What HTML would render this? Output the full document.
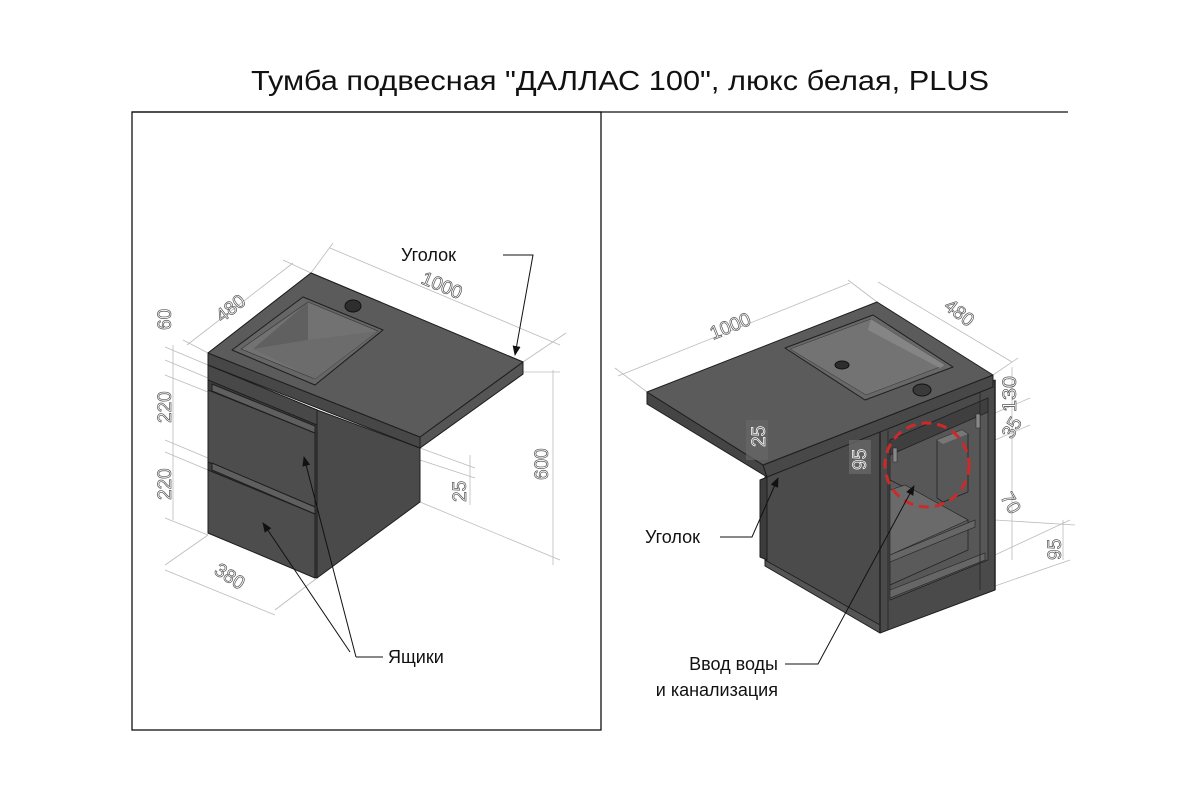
<!DOCTYPE html>
<html><head><meta charset="utf-8"><style>
html,body{margin:0;padding:0;background:#fff;}
svg{display:block;}
text{font-family:"Liberation Sans",sans-serif;}
.dim{fill:#fff;stroke:#555;stroke-width:0.7;font-size:19px;}
.dl{stroke:#bbb;stroke-width:0.8;fill:none;}
.lbl{font-size:18px;fill:#111;}
.e{stroke:#1e1e1e;stroke-width:1;stroke-linejoin:round;}
</style></head><body>
<svg width="1200" height="800" viewBox="0 0 1200 800" xmlns="http://www.w3.org/2000/svg">
<defs><marker id="ar" markerWidth="10" markerHeight="8" refX="9" refY="4" orient="auto" markerUnits="userSpaceOnUse"><path d="M0,0 L10,4 L0,8 z" fill="#111"/></marker></defs>
<rect width="1200" height="800" fill="#fff"/>
<text x="251" y="90" font-size="28" textLength="738" lengthAdjust="spacingAndGlyphs" fill="#111">Тумба подвесная "ДАЛЛАС 100", люкс белая, PLUS</text>
<line x1="132" y1="112" x2="1068" y2="112" stroke="#111" stroke-width="1.3"/>
<rect x="132" y="112" width="469" height="618" fill="none" stroke="#111" stroke-width="1.3"/>

<!-- LEFT DRAWING -->
<g class="dl">
<line x1="330" y1="248" x2="560" y2="345"/><line x1="311" y1="273" x2="333" y2="243"/><line x1="523" y1="362" x2="566" y2="333"/>
<line x1="187" y1="345" x2="293" y2="263"/><line x1="208" y1="353" x2="183" y2="340"/><line x1="311" y1="273" x2="283" y2="260"/>
<line x1="173" y1="345" x2="173" y2="520"/>
<line x1="165" y1="347" x2="208" y2="365"/><line x1="165" y1="360" x2="208" y2="378"/><line x1="165" y1="375" x2="208" y2="392"/>
<line x1="165" y1="440" x2="208" y2="458"/><line x1="165" y1="452" x2="208" y2="470"/><line x1="165" y1="518" x2="208" y2="535"/>
<line x1="165" y1="570" x2="275" y2="615"/><line x1="208" y1="535" x2="165" y2="565"/><line x1="317" y1="578" x2="275" y2="610"/>
<line x1="553" y1="370" x2="553" y2="565"/><line x1="523" y1="372" x2="560" y2="372"/><line x1="420" y1="502" x2="560" y2="560"/>
<line x1="470" y1="455" x2="470" y2="505"/><line x1="420" y1="448" x2="475" y2="468"/><line x1="420" y1="460" x2="475" y2="478"/>
</g>
<text class="dim" transform="translate(420,283) rotate(23)">1000</text>
<text class="dim" transform="translate(222,323) rotate(-38)">480</text>
<text class="dim" transform="translate(171,330) rotate(-90)">60</text>
<text class="dim" transform="translate(171,423) rotate(-90)">220</text>
<text class="dim" transform="translate(171,500) rotate(-90)">220</text>
<text class="dim" transform="translate(213,573) rotate(33)">380</text>
<text class="dim" transform="translate(548,480) rotate(-90)">600</text>
<text class="dim" transform="translate(466,502) rotate(-90)">25</text>

<polygon class="e" points="317,410 420,448 420,502 317,578" fill="#4a4a4a"/>
<polygon class="e" points="208,365 317,410 317,578 208,533" fill="#3e3e3e"/>
<polygon class="e" points="208,365 317,410 317,425 208,380" fill="#484848"/>
<polygon class="e" points="208,390 315,433 315,507 208,462" fill="#4d4d4d"/>
<polygon class="e" points="212,384 315,426 315,433 212,391" fill="#5f5f5f"/>
<polygon class="e" points="208,470 315,514 315,578 208,533" fill="#4d4d4d"/>
<polygon class="e" points="212,463 315,507 315,514 212,470" fill="#5f5f5f"/>
<polygon class="e" points="311,273 523,362 523,374 420,448 208,365 208,353" fill="#4a4a4a"/>
<polygon class="e" points="208,353 420,437 420,448 208,365" fill="#474747"/>
<polygon class="e" points="420,437 523,362 523,374 420,448" fill="#555"/>
<polygon class="e" points="311,273 523,362 420,437 208,353" fill="#5b5b5b"/>
<polygon class="e" points="303,297 383,330 315,385 232,350" fill="#666"/>
<polygon points="308,302 378,331 315,379 241,349" fill="#727272" stroke="#333" stroke-width="0.6"/>
<polygon points="253,349 308,302 308,340" fill="#606060"/>
<polygon points="308,340 378,331 315,379 253,349" fill="#6c6c6c"/>
<ellipse cx="353" cy="306" rx="8" ry="6" fill="#2e2e2e" stroke="#111"/>

<text class="lbl" x="401" y="261">Уголок</text>
<polyline points="503,255 533,255 515,355" fill="none" stroke="#111" stroke-width="1" marker-end="url(#ar)"/>
<text class="lbl" x="388" y="663">Ящики</text>
<line x1="356" y1="657" x2="383" y2="657" stroke="#111"/>
<line x1="356" y1="657" x2="304" y2="457" stroke="#111" marker-end="url(#ar)"/>
<line x1="350" y1="652" x2="263" y2="523" stroke="#111" marker-end="url(#ar)"/>

<!-- RIGHT DRAWING -->
<g class="dl">
<line x1="618" y1="376" x2="850" y2="283"/><line x1="647" y1="392" x2="615" y2="368"/><line x1="877" y1="302" x2="848" y2="280"/>
<line x1="878" y1="282" x2="1012" y2="362"/><line x1="993" y1="375" x2="1018" y2="358"/>
<line x1="1012" y1="367" x2="1012" y2="560"/>
<line x1="995" y1="413" x2="1030" y2="398"/><line x1="995" y1="440" x2="1030" y2="425"/>
<line x1="995" y1="520" x2="1075" y2="525"/><line x1="995" y1="555" x2="1070" y2="520"/><line x1="995" y1="586" x2="1070" y2="560"/>
<line x1="1063" y1="520" x2="1063" y2="560"/>
<line x1="767" y1="410" x2="767" y2="470"/>
</g>
<text class="dim" transform="translate(713,340) rotate(-22)">1000</text>
<text class="dim" transform="translate(943,308) rotate(38)">480</text>
<text class="dim" transform="translate(1016,412) rotate(-90)" textLength="36" lengthAdjust="spacingAndGlyphs">130</text>
<text class="dim" transform="translate(1012,440) rotate(-60)">35</text>
<text class="dim" transform="translate(1000,497) rotate(60)">70</text>
<text class="dim" transform="translate(1061,560) rotate(-90)">95</text>

<polygon class="e" points="765,477 880,428 880,633 765,560" fill="#4b4b4b"/>
<polygon class="e" points="760,480 767,477 767,560 760,557" fill="#3c3c3c"/>
<polygon class="e" points="765,560 880,625 880,633 765,566" fill="#555"/>
<polygon class="e" points="880,428 995,380 995,590 880,633" fill="#4a4a4a"/>
<polygon points="890,440 988,398 988,560 890,600" fill="#575757" stroke="#222" stroke-width="0.8"/>
<polygon points="890,440 988,398 988,412 890,455" fill="#3f3f3f" stroke="#222" stroke-width="0.8"/>
<polygon points="890,480 940,505 968,520 968,550 890,585" fill="#5a5a5a" stroke="#222" stroke-width="0.8"/>
<polygon points="890,490 905,485 968,520 890,555" fill="#6a6a6a" stroke="#222" stroke-width="0.6"/>
<polygon points="890,555 975,520 975,527 890,562" fill="#666" stroke="#222" stroke-width="0.6"/>
<polygon points="890,590 985,553 985,560 890,598" fill="#666" stroke="#222" stroke-width="0.6"/>
<polygon points="937,440 962,430 968,434 968,492 943,502 937,498" fill="#585858" stroke="#222" stroke-width="0.8"/>
<polygon points="937,440 962,430 968,434 943,444" fill="#777"/>
<line x1="880" y1="428" x2="880" y2="633" stroke="#222" stroke-width="1.5"/>
<line x1="888" y1="430" x2="888" y2="630" stroke="#222" stroke-width="0.8"/>
<line x1="980" y1="392" x2="980" y2="590" stroke="#222" stroke-width="0.8"/>
<line x1="995" y1="380" x2="995" y2="590" stroke="#222" stroke-width="1.5"/>
<rect x="893" y="448" width="4" height="14" fill="#888" stroke="#222" stroke-width="0.5"/>
<rect x="976" y="414" width="4" height="14" fill="#888" stroke="#222" stroke-width="0.5"/>
<polygon class="e" points="647,392 763,465 767,477 647,404" fill="#454545"/>
<polygon class="e" points="763,465 993,375 993,387 767,477" fill="#484848"/>
<polygon class="e" points="647,392 877,302 993,375 763,465" fill="#5b5b5b"/>
<polygon class="e" points="785,348 873,315 953,367 865,400" fill="#686868"/>
<polygon points="790,349 871,319 945,365 866,395" fill="#737373" stroke="#333" stroke-width="0.5"/>
<polygon points="871,319 945,365 940,368 868,330" fill="#858585"/>
<ellipse cx="842" cy="365" rx="7" ry="4" fill="#2e2e2e" stroke="#111"/>
<ellipse cx="922" cy="390" rx="9" ry="6" fill="#3a3a3a" stroke="#111"/>
<rect x="746" y="420" width="22" height="40" fill="#666" opacity="0.7"/>
<text class="dim" transform="translate(765,447) rotate(-90)" style="stroke:#fff;fill:none">25</text>
<rect x="849" y="440" width="22" height="34" fill="#666" opacity="0.8"/>
<text class="dim" transform="translate(866,470) rotate(-90)" style="stroke:#fff;fill:none">95</text>
<circle cx="927" cy="465" r="42" fill="none" stroke="#cc2a2a" stroke-width="3" stroke-dasharray="10,6"/>
<text class="lbl" x="645" y="543">Уголок</text>
<polyline points="720,537 752,537 778,478" fill="none" stroke="#111" marker-end="url(#ar)"/>
<text class="lbl" x="778" y="670" text-anchor="end">Ввод воды</text>
<text class="lbl" x="778" y="696" text-anchor="end">и канализация</text>
<polyline points="785,664 818,664 914,486" fill="none" stroke="#111" marker-end="url(#ar)"/>
</svg>
</body></html>
